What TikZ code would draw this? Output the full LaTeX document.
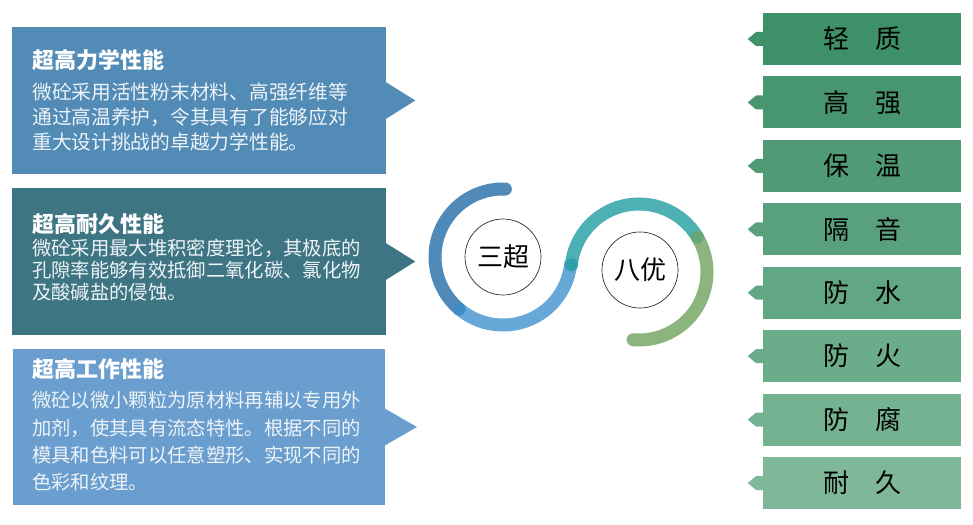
\documentclass[tikz,border=0pt]{standalone}
\usepackage{fontspec}
\setmainfont{Noto Sans CJK SC}
\usetikzlibrary{positioning}
\definecolor{ucSteel}{HTML}{518BB6}
\definecolor{ucTeal}{HTML}{3E7583}
\definecolor{ucSky}{HTML}{6A9ECE}
\definecolor{ucPaper}{HTML}{EEF3F8}
\definecolor{ucGreenTop}{HTML}{3E9068}
\definecolor{ucGreenBot}{HTML}{7EB898}
\definecolor{ucArcDeep}{HTML}{4F8AB8}
\definecolor{ucArcLight}{HTML}{68A8D8}
\definecolor{ucArcTeal}{HTML}{4DB0B2}
\definecolor{ucArcSage}{HTML}{8BB57D}
\definecolor{ucDotBlue}{HTML}{3F8DC4}
\definecolor{ucDotTeal}{HTML}{2E9FAB}
\definecolor{ucDotSage}{HTML}{66A678}
\tikzset{
  infobox/.style={rectangle, inner sep=0pt, minimum width=280.5pt, minimum height=110.25pt},
  headline/.style={anchor=north west, inner sep=0pt, text=white,
    font=\bfseries\fontsize{16.5}{20}\selectfont},
  bodytext/.style={anchor=north west, inner sep=0pt, text=ucPaper, align=left},
  tagbox/.style={rectangle, inner sep=0pt, minimum width=148.5pt, minimum height=39pt,
    font=\fontsize{19.5}{22}\selectfont, text=black},
  hub/.style={circle, draw=black!85, line width=0.5pt, fill=white, minimum size=57pt,
    inner sep=0pt, font=\fontsize{19.5}{22}\selectfont},
  band/.style={line width=9.75pt, line cap=round},
  joint/.style={circle, inner sep=0pt, minimum size=9.75pt}
}

\begin{document}
\begin{tikzpicture}[x=0.75pt,y=-0.75pt]
\useasboundingbox (0,0) rectangle (973,524);

% --------------------------------------------------------------------------
% Three "super" properties
% --------------------------------------------------------------------------
\node[infobox, fill=ucSteel] (mech) at (199,100.5) {};
\fill[ucSteel] ([xshift=-1pt,yshift=14.25pt]mech.east) -- ++(22.75pt,-14.25pt)
  -- ++(-22.75pt,-14.25pt) -- cycle;
\node[headline] (mech_title) at (32,49) {超高力学性能};
\node[bodytext, font=\fontsize{14.8}{18.75}\selectfont] (mech_text) at (32,83) {
  微砼采用活性粉末材料、高强纤维等\\
  通过高温养护，令其具有了能够应对\\
  重大设计挑战的卓越力学性能。
};

\node[infobox, fill=ucTeal] (dura) at (199,261.5) {};
\fill[ucTeal] ([xshift=-1pt,yshift=14.25pt]dura.east) -- ++(22.75pt,-14.25pt)
  -- ++(-22.75pt,-14.25pt) -- cycle;
\node[headline] (dura_title) at (32,213) {超高耐久性能};
\node[bodytext, font=\fontsize{14.5}{16.5}\selectfont] (dura_text) at (32,239) {
  微砼采用最大堆积密度理论，其极底的\\
  孔隙率能够有效抵御二氧化碳、氯化物\\
  及酸碱盐的侵蚀。
};

\node[infobox, fill=ucSky, minimum width=279pt, minimum height=117pt] (work) at (199,427) {};
\fill[ucSky] ([xshift=-1pt,yshift=14.25pt]work.east) -- ++(24.75pt,-14.25pt)
  -- ++(-24.75pt,-14.25pt) -- cycle;
\node[headline] (work_title) at (32,358) {超高工作性能};
\node[bodytext, font=\fontsize{14.5}{20.6}\selectfont] (work_text) at (32,391) {
  微砼以微小颗粒为原材料再辅以专用外\\
  加剂，使其具有流态特性。根据不同的\\
  模具和色料可以任意塑形、实现不同的\\
  色彩和纹理。
};

% --------------------------------------------------------------------------
% S-curve with the two hubs
% --------------------------------------------------------------------------
\draw[band, ucArcDeep] (503,257) ++(272:68) arc[start angle=272, end angle=130, radius=68];
\draw[band, ucArcLight] (503,257) ++(130:68) arc[start angle=130, end angle=6, radius=68];
\draw[band, ucArcTeal] (639,272) ++(186:68) arc[start angle=186, end angle=329, radius=68];
\draw[band, ucArcSage] (639,272) ++(329:68) arc[start angle=329, end angle=455, radius=68];

\path (503,257) ++(130:68) node[joint, fill=ucDotBlue] (joint_blue) {};
\path (639,272) ++(186:68) node[joint, fill=ucDotTeal] (joint_teal) {};
\path (639,272) ++(329:68) node[joint, fill=ucDotSage] (joint_sage) {};

\node[hub] (sanchao) at (503,257) {三超};
\node[hub] (bayou) at (640,270) {八优};

% --------------------------------------------------------------------------
% Eight "excellent" properties
% --------------------------------------------------------------------------
\foreach \tag [count=\i from 0] in {轻　质, 高　强, 保　温, 隔　音, 防　水, 防　火, 防　腐, 耐　久} {
  \pgfmathtruncatemacro{\mix}{\i*100/7}
  \node[tagbox, fill=ucGreenBot!\mix!ucGreenTop] (tag\i) at (862,39+\i*63.43) {\tag};
  \fill[ucGreenBot!\mix!ucGreenTop] ([xshift=1pt,yshift=5.25pt]tag\i.west) -- ++(-6pt,0)
    -- ([xshift=-11.25pt]tag\i.west) -- ([xshift=-5pt,yshift=-5.25pt]tag\i.west)
    -- ([xshift=1pt,yshift=-5.25pt]tag\i.west) -- cycle;
}

\end{tikzpicture}
\end{document}
